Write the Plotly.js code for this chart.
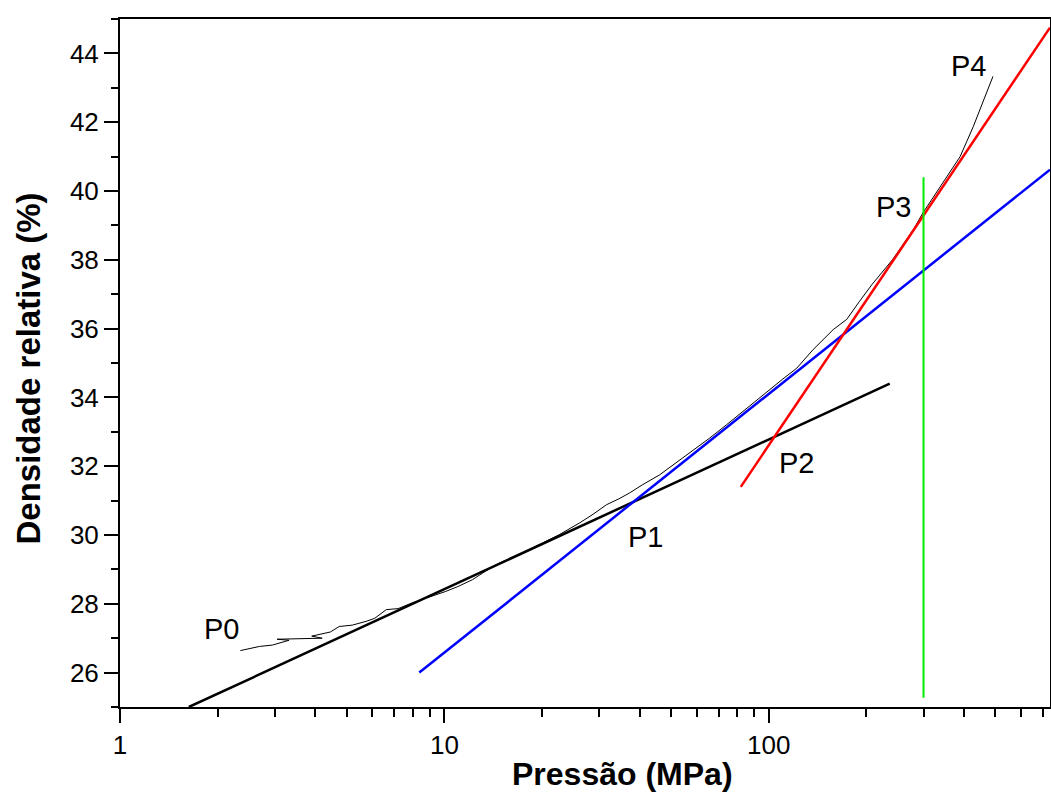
<!DOCTYPE html>
<html>
<head>
<meta charset="utf-8">
<script src="https://cdn.plot.ly/plotly-3.0.1.min.js"></script>
<style>html,body{margin:0;padding:0;background:#fff;}#chart{width:1051px;height:796px;}</style>
</head>
<body>
<div id="chart"></div>
<script>
// Measured curve (pressure MPa, relative density %)
const curveX = [2.35, 2.52, 2.69, 2.95, 3.32, 3.05, 3.6, 4.2, 3.9, 4.45, 4.74, 5.2, 5.74, 6.1, 6.62, 7.2, 7.97, 8.9, 10.1, 11.0, 12.2, 13.4, 14.8, 16.6, 18.7, 20.5, 22.6, 26.1, 28.7, 31.6, 34.5, 37.2, 40.8, 46.1, 51.0, 57.0, 65.8, 74.0, 83.2, 98.6, 110, 122, 137, 158, 174, 190, 208, 241, 259, 280, 299, 320, 344, 389, 427, 457, 491];
const curveY = [26.64, 26.70, 26.76, 26.80, 26.94, 26.97, 26.99, 27.00, 27.06, 27.18, 27.34, 27.38, 27.49, 27.58, 27.83, 27.86, 28.03, 28.18, 28.36, 28.50, 28.70, 28.95, 29.19, 29.38, 29.62, 29.82, 30.01, 30.35, 30.60, 30.88, 31.05, 31.22, 31.46, 31.75, 32.05, 32.38, 32.82, 33.20, 33.59, 34.17, 34.52, 34.85, 35.39, 35.97, 36.27, 36.78, 37.28, 38.01, 38.44, 38.90, 39.37, 39.80, 40.24, 41.00, 41.87, 42.57, 43.33];

// Fitted straight lines (endpoints)
const blackFitX = [1.63, 236];
const blackFitY = [25.0, 34.4];
const blueFitX = [8.37, 736];
const blueFitY = [26.0, 40.62];
const redFitX = [82, 736];
const redFitY = [31.4, 44.75];
const greenX = [300, 300];
const greenY = [25.27, 40.4];

// Point labels
const labelText = ["P0", "P1", "P2", "P3", "P4"];
const labelX = [2.05, 41.7, 122, 243, 414];
const labelY = [27.28, 29.95, 32.10, 39.54, 43.64];

// Axis ticks and titles
const xMajorTicks = [1, 10, 100];
const xMajorText = ["1", "10", "100"];
const xMinorTicks = [2, 3, 4, 5, 6, 7, 8, 9, 20, 30, 40, 50, 60, 70, 80, 90, 200, 300, 400, 500, 600, 700];
const xTitle = "Pressão (MPa)";
const yTitle = "Densidade relativa (%)";

const font = "Arial, 'Liberation Sans', sans-serif";

const traces = [
  {x: curveX, y: curveY, mode: "lines", line: {color: "#000", width: 1}},
  {x: blackFitX, y: blackFitY, mode: "lines", line: {color: "#000", width: 2.5}},
  {x: blueFitX, y: blueFitY, mode: "lines", line: {color: "#0000ff", width: 2.5}},
  {x: redFitX, y: redFitY, mode: "lines", line: {color: "#ff0000", width: 2.5}},
  {x: greenX, y: greenY, mode: "lines", line: {color: "#00ee00", width: 2}}
];

const annotations = labelText.map((t, i) => ({
  x: Math.log10(labelX[i]), y: labelY[i], xref: "x", yref: "y",
  text: t, showarrow: false, font: {family: font, size: 29, color: "#000"}
}));
annotations.push({
  xref: "paper", yref: "paper", x: 0.540, y: -0.0974, xanchor: "center", yanchor: "middle",
  text: "<b>" + xTitle + "</b>", showarrow: false, font: {family: font, size: 32, color: "#000"}
});
annotations.push({
  xref: "paper", yref: "paper", x: -0.0984, y: 0.4927, xanchor: "center", yanchor: "middle",
  textangle: -90, text: "<b>" + yTitle + "</b>", showarrow: false, font: {family: font, size: 33, color: "#000"}
});

const layout = {
  width: 1051, height: 796,
  margin: {l: 120, r: 1, t: 19, b: 89},
  paper_bgcolor: "#fff", plot_bgcolor: "#fff",
  showlegend: false,
  font: {family: font, color: "#000"},
  annotations: annotations,
  xaxis: {
    type: "log", range: [0, 2.867],
    tickmode: "array", tickvals: xMajorTicks, ticktext: xMajorText,
    ticks: "outside", ticklen: 14, tickwidth: 2, tickcolor: "#000",
    minor: {tickmode: "array", tickvals: xMinorTicks, ticks: "outside", ticklen: 8, tickwidth: 2, tickcolor: "#000", showgrid: false},
    showline: true, linewidth: 2, linecolor: "#000", mirror: true,
    showgrid: false, zeroline: false,
    tickfont: {family: font, size: 26, color: "#000"}
  },
  yaxis: {
    range: [25, 45], dtick: 2, tick0: 0,
    ticks: "outside", ticklen: 14, tickwidth: 2, tickcolor: "#000",
    minor: {dtick: 1, ticks: "outside", ticklen: 7, tickwidth: 2, tickcolor: "#000", showgrid: false},
    showline: true, linewidth: 2, linecolor: "#000", mirror: true,
    showgrid: false, zeroline: false,
    tickfont: {family: font, size: 26, color: "#000"}
  }
};

Plotly.newPlot("chart", traces, layout, {displayModeBar: false, staticPlot: true});
</script>
</body>
</html>
